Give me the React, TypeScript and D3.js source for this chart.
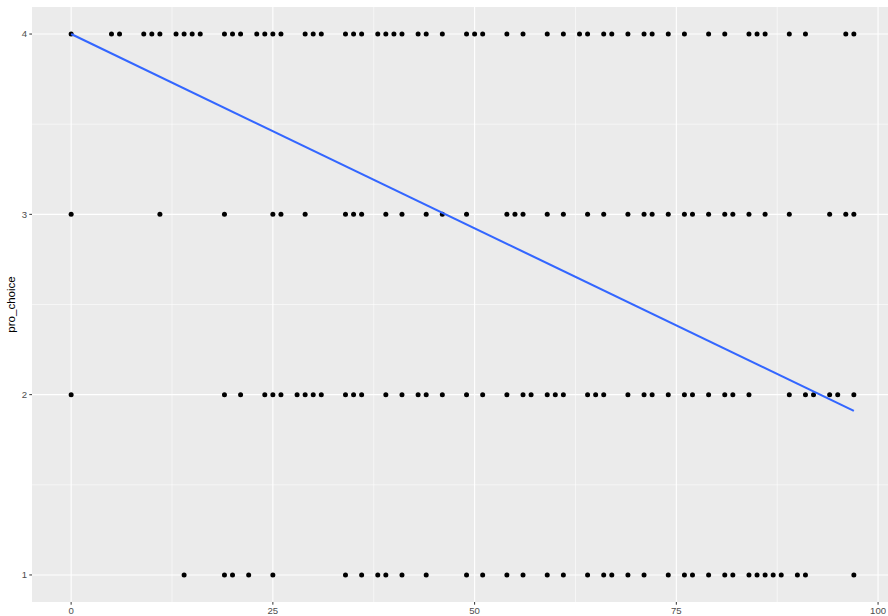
import React from "react";
import { scaleLinear, line } from "d3";

// values, one list per pro_choice level
const row4 = [0, 5, 6, 9, 10, 11, 13, 14, 15, 16, 19, 20, 21, 23, 24, 25, 26, 29, 30, 31, 34, 35, 36, 38, 39, 40, 41, 43, 44, 46,
  49, 50, 51, 54, 56, 59, 61, 63, 64, 66, 67, 69, 71, 72, 74, 76, 79, 81, 84, 85, 86, 89, 91, 96, 97];
const row3 = [0, 11, 19, 25, 26, 29, 34, 35, 36, 39, 41, 44, 46,
  49, 54, 55, 56, 59, 61, 64, 66, 69, 71, 72, 74, 76, 77, 79, 81, 82, 84, 86, 89, 94, 96, 97];
const row2 = [0, 19, 21, 24, 25, 26, 28, 29, 30, 31, 34, 35, 36, 39, 41, 43, 44, 46,
  49, 51, 54, 56, 57, 59, 60, 61, 64, 65, 66, 69, 71, 72, 74, 76, 77, 79, 81, 82, 84, 89, 91, 92, 94, 95, 97];
const row1 = [14, 19, 20, 22, 25, 34, 36, 38, 39, 41, 44,
  49, 51, 54, 56, 59, 61, 64, 66, 67, 69, 71, 74, 76, 77, 79, 81, 82, 84, 85, 86, 87, 88, 90, 91, 97];

const levels = [4, 3, 2, 1];
const rows = [row4, row3, row2, row1];

// lm fit as drawn
const fitX = [0, 97];
const fitY = [4.0, 1.91];

const xTicks = [0, 25, 50, 75, 100];
const xMinor = [12.5, 37.5, 62.5, 87.5];
const yTicks = [1, 2, 3, 4];
const yMinor = [1.5, 2.5, 3.5];

const width = 888;
const height = 616;
const panel = { left: 32, right: 893, top: 7, bottom: 602 };

export default function App() {
  const x = scaleLinear().domain([-4.85, 101.85]).range([panel.left, panel.right]);
  const y = scaleLinear().domain([0.85, 4.15]).range([panel.bottom, panel.top]);

  const points = rows.flatMap((r, i) => r.map((v) => ({ x: v, y: levels[i] })));
  const fitLine = line<number>()
    .x((d, i) => x(fitX[i]))
    .y((d) => y(d))(fitY);

  const txt = "#4D4D4D";

  return (
    <svg
      width={width}
      height={height}
      style={{ position: "absolute", left: 0, top: 0, background: "#fff" }}
      fontFamily="'Liberation Sans', Arial, sans-serif"
    >
      <defs>
        <clipPath id="panel">
          <rect x={panel.left} y={panel.top} width={panel.right - panel.left} height={panel.bottom - panel.top} />
        </clipPath>
      </defs>
      <rect x={panel.left} y={panel.top} width={panel.right - panel.left} height={panel.bottom - panel.top} fill="#EBEBEB" />
      <g clipPath="url(#panel)">
        {xMinor.map((t) => (
          <line key={"xm" + t} x1={x(t)} x2={x(t)} y1={panel.top} y2={panel.bottom} stroke="#fff" strokeWidth={0.55} />
        ))}
        {yMinor.map((t) => (
          <line key={"ym" + t} y1={y(t)} y2={y(t)} x1={panel.left} x2={panel.right} stroke="#fff" strokeWidth={0.55} />
        ))}
        {xTicks.map((t) => (
          <line key={"xM" + t} x1={x(t)} x2={x(t)} y1={panel.top} y2={panel.bottom} stroke="#fff" strokeWidth={1.1} />
        ))}
        {yTicks.map((t) => (
          <line key={"yM" + t} y1={y(t)} y2={y(t)} x1={panel.left} x2={panel.right} stroke="#fff" strokeWidth={1.1} />
        ))}
        {points.map((p, i) => (
          <circle key={i} cx={x(p.x)} cy={y(p.y)} r={2.5} fill="#000" />
        ))}
        <path d={fitLine || ""} fill="none" stroke="#3366FF" strokeWidth={2.1} />
      </g>

      {/* y axis */}
      {yTicks.map((t) => (
        <g key={"yt" + t}>
          <line x1={panel.left - 2.7} x2={panel.left} y1={y(t)} y2={y(t)} stroke="#333" strokeWidth={1} />
          <text x={panel.left - 5} y={y(t)} dy="0.35em" textAnchor="end" fontSize={9.6} fill={txt}>
            {t}
          </text>
        </g>
      ))}
      {/* x axis */}
      {xTicks.map((t) => (
        <g key={"xt" + t}>
          <line x1={x(t)} x2={x(t)} y1={panel.bottom} y2={panel.bottom + 2.7} stroke="#333" strokeWidth={1} />
          <text x={x(t)} y={panel.bottom + 12} textAnchor="middle" fontSize={9.6} fill={txt}>
            {t}
          </text>
        </g>
      ))}
      <text
        transform={`translate(14.5, ${(panel.top + panel.bottom) / 2}) rotate(-90)`}
        textAnchor="middle"
        fontSize={11.5}
        fill="#000"
      >
        pro_choice
      </text>
    </svg>
  );
}
